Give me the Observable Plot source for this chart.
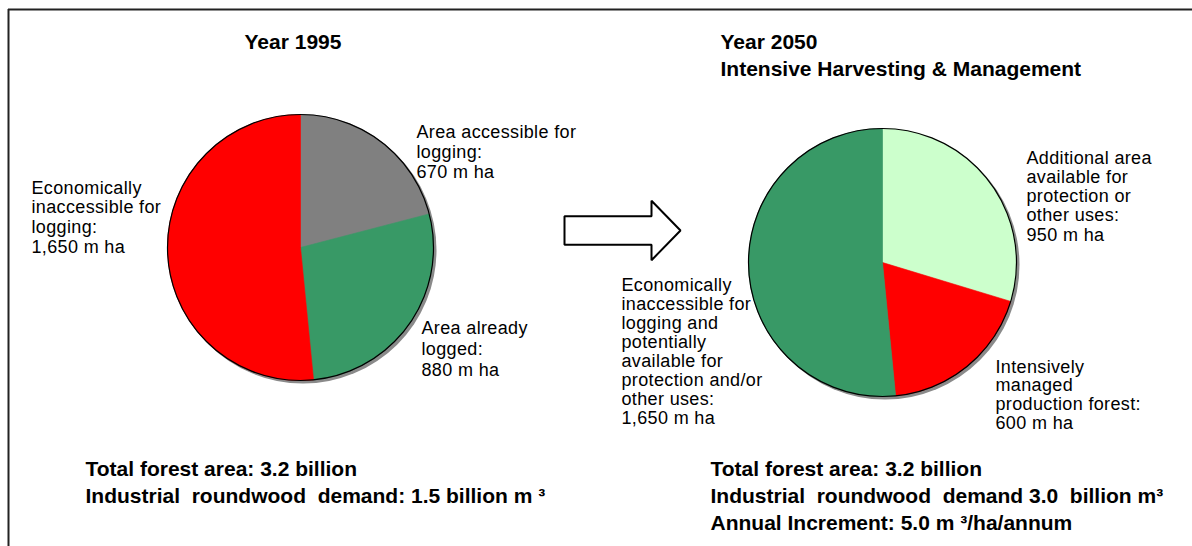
<!DOCTYPE html>
<html><head><meta charset="utf-8">
<script src="https://cdn.jsdelivr.net/npm/d3@7"></script>
<script src="https://cdn.jsdelivr.net/npm/@observablehq/plot@0.6"></script>
<style>
html,body{margin:0;padding:0;background:#fff;}
svg text{white-space:pre;}
svg g[font-size="18"] text{letter-spacing:0.35px;}
</style></head><body><div id="chart"></div>
<script>
// ---------- data ----------
const pie1Categories = ["Area accessible for logging", "Area already logged", "Economically inaccessible for logging"];
const pie1Values = [670, 880, 1650];
const pie1Colors = ["#808080", "#389966", "#ff0000"];
const pie1LabelText = [["Area accessible for", "logging:"], ["Area already", "logged:"], ["Economically", "inaccessible for", "logging:"]];

const pie2Categories = ["Additional area available for protection or other uses", "Intensively managed production forest", "Economically inaccessible for logging and potentially available for protection and/or other uses"];
const pie2Values = [950, 600, 1650];
const pie2Colors = ["#ccffcc", "#ff0000", "#389966"];
const pie2LabelText = [["Additional area", "available for", "protection or", "other uses:"], ["Intensively", "managed", "production forest:"], ["Economically", "inaccessible for", "logging and", "potentially", "available for", "protection and/or", "other uses:"]];

const valueUnit = "m ha";
const titles1 = ["Year 1995"];
const titles2 = ["Year 2050", "Intensive Harvesting & Management"];
const notes1 = ["Total forest area: 3.2 billion", "Industrial  roundwood  demand: 1.5 billion m \u00b3"];
const notes2 = ["Total forest area: 3.2 billion", "Industrial  roundwood  demand 3.0  billion m\u00b3", "Annual Increment: 5.0 m \u00b3/ha/annum"];

// ---------- layout ----------
const W = 1192, H = 546;
const pies = [
  {cx: 300, cy: 247, r: 133, values: pie1Values, colors: pie1Colors, labels: pie1LabelText,
   labelPos: [{x: 416, y: 137, lh: 20}, {x: 421, y: 333, lh: 21}, {x: 31, y: 193, lh: 19.7}]},
  {cx: 882, cy: 262, r: 134, values: pie2Values, colors: pie2Colors, labels: pie2LabelText,
   labelPos: [{x: 1026, y: 163, lh: 19.3}, {x: 995, y: 372, lh: 18.8}, {x: 621, y: 290, lh: 19.05}]}
];
const boldBlocks = [
  {lines: titles1, x: 244, y: 48, lh: 27},
  {lines: titles2, x: 720, y: 48, lh: 27},
  {lines: notes1, x: 85, y: 475, lh: 27.5},
  {lines: notes2, x: 710, y: 475, lh: 27}
];
const arrow = {x0: 564, x1: 651, x2: 680, yc: 230, shaft: 14.3, head: 29.7};

// ---------- derived geometry ----------
const fmt = d3.format(",");
function slices(p) {
  const arcs = d3.pie().sort(null).value(d => d)(p.values);
  return arcs.map((a, i) => {
    const pts = [{x: p.cx, y: p.cy}];
    const n = Math.max(2, Math.ceil((a.endAngle - a.startAngle) / (Math.PI / 360)));
    for (let k = 0; k <= n; k++) {
      const t = a.startAngle + (a.endAngle - a.startAngle) * k / n;
      pts.push({x: p.cx + p.r * Math.sin(t), y: p.cy - p.r * Math.cos(t)});
    }
    pts.push({x: p.cx, y: p.cy});
    return {pts, color: p.colors[i]};
  });
}
const regularRows = [];
pies.forEach(p => {
  p.labels.forEach((lines, i) => {
    const all = [...lines, fmt(p.values[i]) + " " + valueUnit];
    const lp = p.labelPos[i];
    all.forEach((t, k) => regularRows.push({x: lp.x, y: lp.y + k * lp.lh, text: t}));
  });
});
const boldRows = [];
boldBlocks.forEach(b => b.lines.forEach((t, k) => boldRows.push({x: b.x, y: b.y + k * b.lh, text: t})));

const a = arrow;
const arrowPts = [
  [a.x0, a.yc], [a.x0, a.yc - a.shaft], [a.x1, a.yc - a.shaft], [a.x1, a.yc - a.head],
  [a.x2, a.yc], [a.x1, a.yc + a.head], [a.x1, a.yc + a.shaft], [a.x0, a.yc + a.shaft], [a.x0, a.yc]
].map(([x, y]) => ({x, y}));

const marks = [
  Plot.ruleY([9], {x1: 8, x2: W, stroke: "#222", strokeWidth: 2}),
  Plot.ruleX([8], {y1: 9, y2: H, stroke: "#222", strokeWidth: 2})
];
pies.forEach(p => {
  marks.push(Plot.dot([p], {x: d => d.cx + 2.5, y: d => d.cy + 2.5, r: p.r + 0.5, fill: "#8a8a8a", stroke: "none"}));
  slices(p).forEach(s => marks.push(Plot.line(s.pts, {x: "x", y: "y", fill: s.color, stroke: s.color, strokeWidth: 0.6})));
  marks.push(Plot.dot([p], {x: "cx", y: "cy", r: p.r, fill: "none", stroke: "#000", strokeWidth: 1.2}));
});
marks.push(Plot.line(arrowPts, {x: "x", y: "y", fill: "white", stroke: "#000", strokeWidth: 2, strokeLinejoin: "miter"}));
marks.push(Plot.text(regularRows, {x: "x", y: "y", text: "text", textAnchor: "start", lineAnchor: "bottom", fontSize: 18, fill: "#000"}));
marks.push(Plot.text(boldRows, {x: "x", y: "y", text: "text", textAnchor: "start", lineAnchor: "bottom", fontSize: 21, fontWeight: "bold", fill: "#000"}));

const chart = Plot.plot({
  width: W, height: H,
  margin: 0,
  x: {domain: [0, W], range: [0, W], axis: null},
  y: {domain: [0, H], range: [0, H], axis: null},
  style: {fontFamily: "'Liberation Sans', Arial, sans-serif", background: "#fff", color: "#000"},
  marks
});
document.getElementById("chart").appendChild(chart);
</script>
</body></html>
